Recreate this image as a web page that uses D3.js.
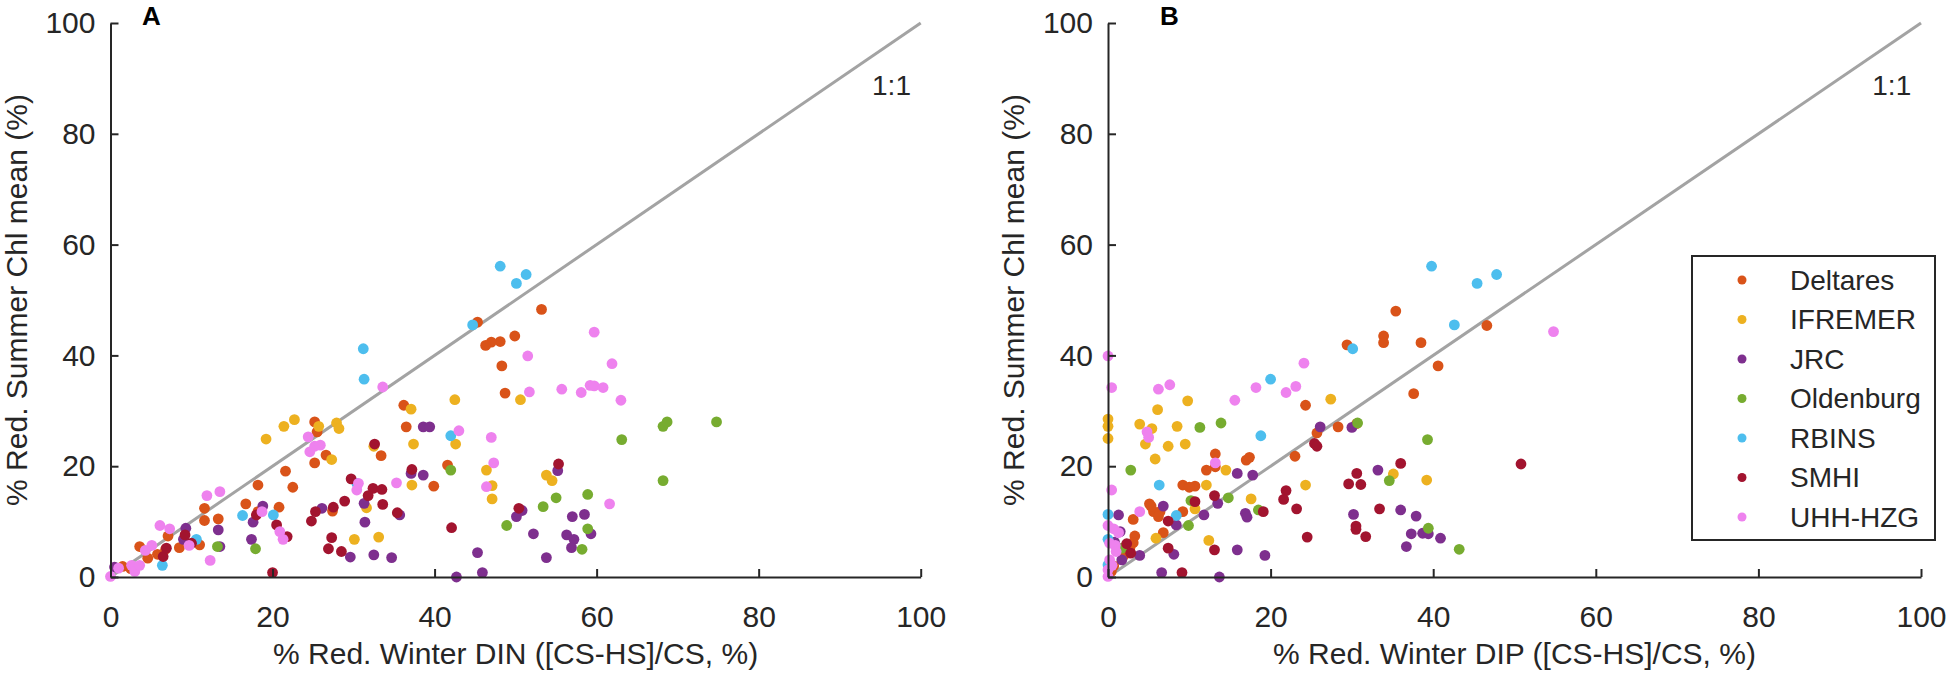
<!DOCTYPE html>
<html>
<head>
<meta charset="utf-8">
<script src="https://cdn.jsdelivr.net/npm/d3@7.9.0/dist/d3.min.js"></script>
<style>
  body { margin: 0; background: #fff; }
  svg text { font-family: "Liberation Sans", Arial, sans-serif; fill: #262626; }
</style>
</head>
<body>
<svg id="chart" width="1949" height="673"></svg>
<script>
// institutions, in legend / draw order
const institutions = ['Deltares', 'IFREMER', 'JRC', 'Oldenburg', 'RBINS', 'SMHI', 'UHH-HZG'];
const colors = ['#D95319', '#EDB120', '#7E2F8E', '#77AC30', '#4DBEEE', '#A2142F', '#EE82EE'];
const ticks = [0, 20, 40, 60, 80, 100];

// panel A: [% red. winter DIN, % red. summer Chl]
const deltaresDIN = [[53.2,48.3],[49.9,43.5],[48.1,42.5],[47.0,42.4],[46.3,41.8],[48.3,38.1],[48.7,33.2],[45.3,46.0],
  [36.2,31.0],[36.5,27.1],[25.2,28.0],[25.5,26.2],[26.6,22.0],[25.2,20.6],[33.4,21.9],[21.6,19.1],[22.5,16.2],
  [18.2,16.6],[16.7,13.2],[39.9,16.4],[41.6,20.2],[20.8,12.6],[18.2,11.8],[27.4,11.9],[11.6,12.4],[11.6,10.2],
  [13.3,10.5],[7.1,7.4],[3.6,5.5],[8.5,5.3],[11.0,5.8],[4.6,3.4],[5.8,4.1],[6.8,5.0],[1.5,1.9],[2.5,1.5]];
const ifremerDIN = [[19.2,24.9],[21.4,27.2],[22.7,28.4],[25.7,27.2],[27.9,27.8],[28.2,26.8],[27.3,21.2],[32.5,23.6],
  [37.1,30.3],[37.4,24.0],[37.2,16.6],[31.6,12.5],[30.1,6.8],[33.1,7.2],[42.5,32.0],[42.6,24.0],[50.6,32.0],
  [46.4,19.3],[47.1,16.5],[47.1,14.1],[53.8,18.4],[54.5,17.4]];
const jrcDIN = [[0.5,1.8],[9.3,8.8],[9.0,6.8],[13.3,8.5],[13.5,5.5],[17.4,6.8],[17.6,9.9],[18.8,12.8],[26.1,12.4],
  [31.3,13.3],[31.4,9.9],[29.6,3.6],[32.5,4.0],[34.7,3.5],[38.6,27.1],[39.4,27.1],[37.1,18.7],[38.6,18.4],
  [35.7,11.2],[45.3,4.4],[42.7,0.0],[45.9,0.8],[55.2,19.2],[50.8,12.0],[50.1,10.9],[57.0,10.9],[58.5,11.3],
  [52.2,7.8],[56.3,7.6],[57.2,6.8],[59.3,7.8],[56.9,5.3],[53.8,3.5]];
const oldenburgDIN = [[13.2,5.5],[17.9,5.1],[42.0,19.3],[63.1,24.8],[68.2,27.2],[68.7,28.0],[74.8,28.0],[68.2,17.4],
  [58.9,14.9],[55.0,14.3],[53.4,12.7],[48.9,9.3],[58.9,8.7],[58.2,5.0]];
const rbinsDIN = [[48.1,56.1],[50.1,53.0],[51.3,54.6],[44.7,45.5],[31.2,41.2],[31.3,35.7],[42.0,25.5],[30.4,16.9],
  [16.3,11.1],[20.1,11.2],[10.6,6.8],[6.4,2.1]];
const smhiDIN = [[32.6,24.0],[37.2,19.4],[29.7,17.7],[32.4,16.0],[33.5,15.8],[31.8,14.7],[33.6,13.1],[28.9,13.7],
  [27.5,12.6],[25.3,11.8],[24.8,10.1],[35.4,11.6],[27.3,7.1],[26.9,5.1],[28.5,4.6],[20.5,9.4],[21.8,7.3],
  [18.0,11.2],[20.0,0.8],[42.1,8.9],[55.3,20.4],[50.4,12.4],[6.5,3.7],[6.9,5.2],[9.2,7.6],[10.0,6.1]];
const uhhDIN = [[0,0.1],[1.0,1.6],[2.6,2.1],[3.0,1.0],[3.6,2.1],[4.3,4.8],[5.1,5.7],[6.1,9.3],[7.3,8.7],[9.7,5.7],
  [11.9,14.7],[13.5,15.4],[12.3,3.0],[18.7,11.8],[20.9,8.2],[21.3,6.8],[24.4,25.3],[24.6,22.6],[25.2,23.6],
  [25.9,23.8],[30.6,16.9],[30.4,15.7],[35.3,17.0],[33.6,34.3],[43.0,26.4],[47.0,25.2],[47.3,20.6],[46.4,16.3],
  [59.7,44.2],[51.5,39.9],[61.9,38.5],[51.7,33.4],[55.7,33.9],[58.1,33.3],[59.2,34.6],[59.7,34.5],[60.8,34.2],
  [63.0,31.9],[61.6,13.2]];

// panel B: [% red. winter DIP, % red. summer Chl]
const deltaresDIP = [[35.4,48.0],[46.6,45.4],[33.9,43.5],[33.9,42.3],[38.5,42.3],[29.4,41.9],[40.6,38.1],[37.6,33.1],
  [24.3,31.0],[28.3,27.1],[30.6,27.7],[25.7,26.0],[23.0,21.8],[13.2,22.2],[17.0,21.1],[17.4,21.6],[12.1,19.3],
  [13.2,19.9],[9.2,16.6],[10.7,16.4],[10.0,16.2],[5.1,13.2],[5.6,11.8],[6.4,11.8],[6.2,10.9],[9.2,11.8],
  [3.1,10.4],[3.3,7.4],[3.1,6.2],[6.8,8.0],[2.7,5.3],[1.9,3.8],[0.7,2.0],[5.3,12.8],[2.2,4.5],[0.4,1.0]];
const ifremerDIP = [[0,28.5],[0,27.2],[0,25.0],[3.9,27.6],[5.4,26.8],[6.1,30.2],[9.8,31.8],[8.5,27.2],[4.6,24.0],
  [7.4,23.6],[9.5,24.0],[5.8,21.3],[14.5,19.3],[12.1,16.6],[27.4,32.1],[24.3,16.6],[17.6,14.1],[35.1,18.6],
  [39.2,17.5],[10.7,12.3],[5.9,7.0],[12.4,6.6]];
const jrcDIP = [[26.1,27.1],[30.0,27.0],[15.9,18.7],[17.8,18.4],[33.2,19.3],[6.8,12.8],[13.5,13.3],[11.8,11.2],
  [16.9,11.5],[17.1,10.8],[30.2,11.3],[36.0,12.1],[37.9,11.0],[1.3,11.2],[8.4,9.4],[3.9,3.9],[8.1,4.1],
  [15.9,4.9],[19.3,3.9],[6.6,0.8],[13.7,0.0],[37.3,7.8],[38.7,7.9],[39.4,7.8],[40.9,7.0],[36.7,5.5],[1.7,3.1],
  [1.5,8.2],[0.8,6.3]];
const oldenburgDIP = [[11.3,27.0],[13.9,27.8],[30.7,27.8],[39.3,24.8],[2.8,19.3],[34.6,17.4],[14.8,14.3],[10.2,13.8],
  [18.5,12.1],[9.9,9.3],[39.4,8.8],[43.2,5.0],[1.7,5.2]];
const rbinsDIP = [[39.8,56.1],[45.4,53.0],[47.8,54.6],[42.6,45.5],[30.1,41.2],[20.0,35.7],[18.8,25.5],[6.3,16.6],
  [8.4,11.1],[0,11.3],[0,6.8],[0,2.2]];
const smhiDIP = [[36.0,20.5],[50.8,20.4],[30.6,18.7],[29.6,16.8],[31.1,16.7],[33.4,12.3],[21.9,15.6],[21.6,14.0],
  [23.2,12.3],[25.4,24.1],[25.7,23.6],[13.1,14.7],[10.7,13.6],[19.1,11.8],[7.4,10.1],[30.5,9.2],[30.5,8.6],
  [31.7,7.3],[24.5,7.2],[7.4,5.2],[13.1,4.9],[9.1,0.8],[2.3,6.0],[2.8,4.3]];
const uhhDIP = [[54.8,44.3],[0,39.9],[0.45,34.2],[6.2,33.9],[7.6,34.7],[15.6,31.9],[18.2,34.2],[21.9,33.3],
  [23.1,34.4],[24.1,38.6],[13.2,20.6],[4.8,26.2],[5.0,25.2],[0.45,15.7],[3.9,11.8],[0,9.3],[0.7,8.7],[1.3,8.0],
  [0.2,6.1],[0.9,5.7],[0.2,3.1],[0.5,2.1],[0,1.3],[0,0.1],[1.0,4.6]];

const panels = [
  { label: 'A', left: 110.5, right: 920.7, labelX: 142,
    xTitle: '% Red. Winter DIN ([CS-HS]/CS, %)',
    series: [deltaresDIN, ifremerDIN, jrcDIN, oldenburgDIN, rbinsDIN, smhiDIN, uhhDIN] },
  { label: 'B', left: 1108, right: 1921, labelX: 1160,
    xTitle: '% Red. Winter DIP ([CS-HS]/CS, %)',
    series: [deltaresDIP, ifremerDIP, jrcDIP, oldenburgDIP, rbinsDIP, smhiDIP, uhhDIP], legend: true }
];

const svg = d3.select('#chart');
svg.append('rect').attr('width', 1949).attr('height', 673).attr('fill', '#fff');

const plotTop = 23, plotBottom = 577;

panels.forEach((p) => {
  const x = d3.scaleLinear().domain([0, 100]).range([p.left, p.right]);
  const y = d3.scaleLinear().domain([0, 100]).range([plotBottom, plotTop]);
  const g = svg.append('g');

  // 1:1 line
  g.append('line')
    .attr('x1', x(0)).attr('y1', y(0))
    .attr('x2', x(100)).attr('y2', y(100))
    .attr('stroke', '#a3a3a3').attr('stroke-width', 3);

  g.append('text')
    .attr('x', x(98.8)).attr('y', y(87))
    .attr('text-anchor', 'end')
    .attr('font-size', 28)
    .text('1:1');

  // points
  p.series.forEach((pts, i) => {
    g.append('g').selectAll('circle')
      .data(pts)
      .join('circle')
      .attr('cx', (d) => x(d[0]))
      .attr('cy', (d) => y(d[1]))
      .attr('r', 5.4)
      .attr('fill', colors[i]);
  });

  // axes, ticks pointing in
  const xAxis = g.append('g')
    .attr('transform', `translate(0,${plotBottom})`)
    .call(d3.axisBottom(x).tickValues(ticks).tickSizeInner(-8).tickSizeOuter(0).tickPadding(29));
  const yAxis = g.append('g')
    .attr('transform', `translate(${p.left},0)`)
    .call(d3.axisLeft(y).tickValues(ticks).tickSizeInner(-8).tickSizeOuter(0).tickPadding(15));

  [xAxis, yAxis].forEach((ax) => {
    ax.select('.domain').attr('stroke', '#262626').attr('stroke-width', 2);
    ax.selectAll('.tick line').attr('stroke', '#262626').attr('stroke-width', 2);
    ax.selectAll('.tick text')
      .attr('font-size', 30)
      .attr('font-family', '"Liberation Sans", Arial, sans-serif')
      .attr('fill', '#262626');
  });

  g.append('text')
    .attr('x', (p.left + p.right) / 2).attr('y', 664)
    .attr('text-anchor', 'middle')
    .attr('font-size', 30)
    .text(p.xTitle);

  g.append('text')
    .attr('transform', `translate(${p.left - 84},${(plotTop + plotBottom) / 2}) rotate(-90)`)
    .attr('text-anchor', 'middle')
    .attr('font-size', 30)
    .text('% Red. Summer Chl mean (%)');

  g.append('text')
    .attr('x', p.labelX).attr('y', 25)
    .attr('font-size', 26)
    .attr('font-weight', 'bold')
    .style('fill', '#000')
    .text(p.label);

  if (p.legend) {
    const lg = g.append('g');
    lg.append('rect')
      .attr('x', 1692).attr('y', 256)
      .attr('width', 243).attr('height', 284)
      .attr('fill', '#fff')
      .attr('stroke', '#262626').attr('stroke-width', 2);
    institutions.forEach((name, i) => {
      const cy = 280 + i * 39.5;
      lg.append('circle').attr('cx', 1742).attr('cy', cy).attr('r', 4.5).attr('fill', colors[i]);
      lg.append('text')
        .attr('x', 1790).attr('y', cy)
        .attr('dy', '0.35em')
        .attr('font-size', 28)
        .text(name);
    });
  }
});
</script>
</body>
</html>
